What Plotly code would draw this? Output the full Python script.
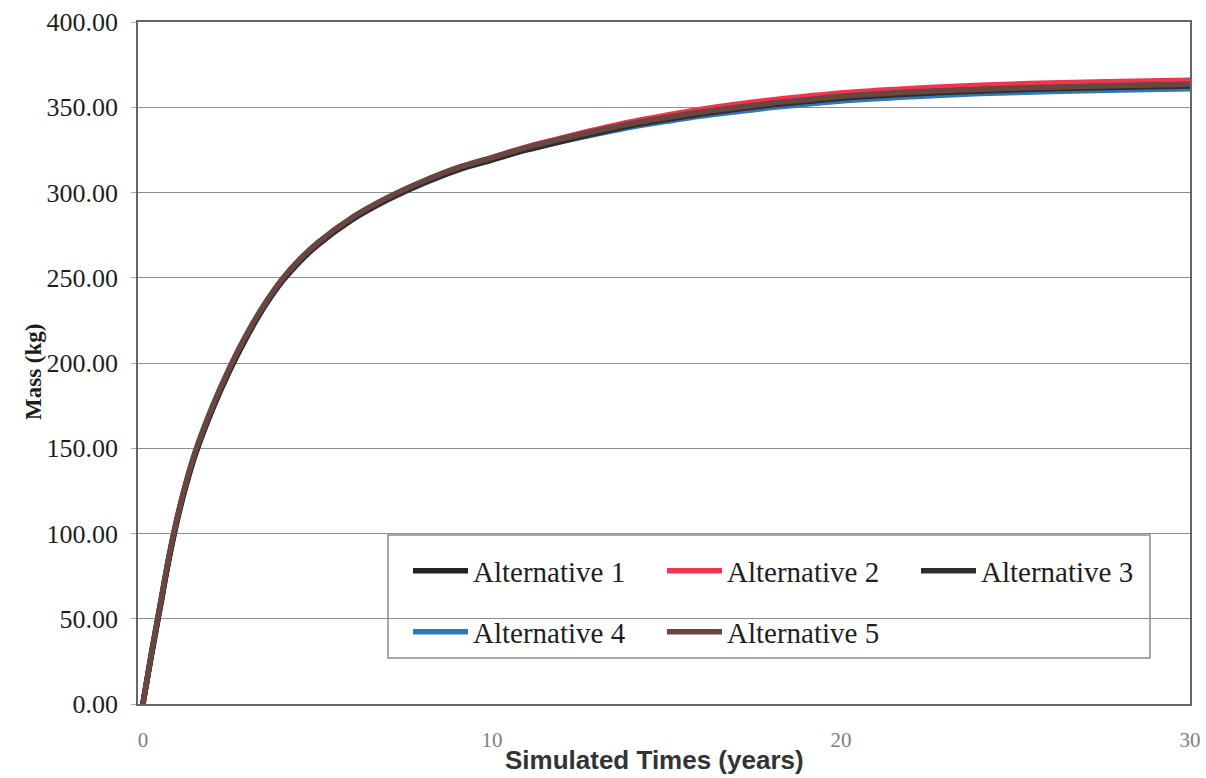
import plotly.graph_objects as go

times = [0, 0.25, 0.5, 0.75, 1, 1.25, 1.5, 2, 2.5, 3, 3.5, 4, 4.5, 5, 6, 7, 8, 9, 10, 11, 12,
         13, 14, 15, 16, 17, 18, 19, 20, 22, 24, 26, 28, 30]
alt1 = [0, 30, 58, 86, 110, 130, 147, 174, 197, 217, 234.5, 249, 260.5, 270, 285, 296.5, 306,
        314, 320, 326, 331, 335.7, 340, 343.5, 346.8, 349.5, 352, 354, 356, 358.5, 360.3, 361.5,
        362.4, 363.2]
alt2 = [0, 30, 58, 86, 110, 130, 147, 174, 197, 217, 234.5, 249, 260.5, 270, 285, 296.5, 306,
        314.3, 320.5, 326.8, 332, 337, 341.5, 345.3, 348.8, 351.7, 354.3, 356.4, 358.4, 361,
        362.9, 364.2, 365.1, 365.9]
alt3 = [0, 29, 57, 85, 109, 129, 146, 173, 196, 216, 233.5, 248, 259.5, 269, 284, 295.5, 305,
        313, 319, 325, 330, 334.8, 339.2, 342.8, 346, 348.8, 351.3, 353.3, 355.3, 357.8, 359.6,
        360.8, 361.7, 362.5]
alt4 = [0, 30, 58, 86, 110, 130, 147, 174, 197, 217, 234.5, 249, 260.5, 270, 285, 296.5, 305.8,
        313.6, 319.4, 325.1, 329.9, 334.3, 338.4, 341.7, 344.8, 347.4, 349.8, 351.8, 353.7, 356.2,
        358, 359.2, 360.1, 360.8]
alt5 = [0, 30.5, 59, 87, 111, 131, 148, 175, 198, 218, 235, 249.5, 261, 270.5, 285.5, 297, 306.5,
        314.5, 320.5, 326.5, 331.5, 336.2, 340.5, 344, 347.2, 349.9, 352.4, 354.4, 356.4, 358.9,
        360.6, 361.8, 362.7, 363.5]

names = ["Alternative 1", "Alternative 2", "Alternative 3", "Alternative 4", "Alternative 5"]
series = [alt1, alt2, alt3, alt4, alt5]
colors = ["#232323", "#f2344f", "#2e2e2e", "#2f78b5", "#6a4640"]
legends = ["legend", "legend", "legend", "legend2", "legend2"]
draw_order = [1, 3, 0, 2, 4]

fig = go.Figure()
for i in draw_order:
    fig.add_trace(go.Scatter(
        x=times, y=series[i], mode="lines", name=names[i],
        line=dict(color=colors[i], width=5.5, shape="spline", smoothing=1.0),
        legend=legends[i], legendrank=i + 1,
    ))

W, H = 1206, 778
L, T = 138, 22
R = W - 1190
B = H - 704
pw, ph = W - L - R, H - T - B


def px_x(p):
    return (p - L) / pw


def px_y(p):
    return (H - B - p) / ph


serif = "Liberation Serif, Times New Roman, serif"
legend_font = dict(family=serif, size=29, color="#1e1e1e")
leg_common = dict(orientation="h", xanchor="left", yanchor="middle", font=legend_font,
                  itemwidth=55, entrywidth=184, bgcolor="rgba(0,0,0,0)", traceorder="normal")

fig.update_layout(
    width=W, height=H,
    margin=dict(l=L, r=R, t=T, b=B),
    paper_bgcolor="white", plot_bgcolor="white",
    showlegend=True,
    legend=dict(x=px_x(408), y=px_y(571), **leg_common),
    legend2=dict(x=px_x(408), y=px_y(632), **leg_common),
    shapes=[dict(type="rect", xref="paper", yref="paper",
                 x0=px_x(388), x1=px_x(1150), y0=px_y(658), y1=px_y(535),
                 line=dict(color="#8c8c8c", width=1.5), fillcolor="white", layer="below")],
    annotations=[
        dict(text="<b>Simulated Times (years)</b>", xref="paper", yref="paper",
             x=px_x(654), y=px_y(777), xanchor="center", yanchor="bottom", showarrow=False,
             font=dict(family="Liberation Sans, Arial, sans-serif", size=26, color="#333")),
        dict(text="<b>Mass (kg)</b>", xref="paper", yref="paper", textangle=-90,
             x=px_x(33), y=px_y(372), xanchor="center", yanchor="middle", showarrow=False,
             font=dict(family=serif, size=23, color="#1e1e1e")),
    ],
    xaxis=dict(range=[-0.14, 30], tickvals=[0, 10, 20, 30], ticks="", showgrid=False,
               automargin=False,
               zeroline=False, showline=True, linecolor="#666", linewidth=1.5, mirror=True,
               ticklabelstandoff=16,
               tickfont=dict(family=serif, size=21, color="#808080")),
    yaxis=dict(range=[0, 400], tickvals=[0, 50, 100, 150, 200, 250, 300, 350, 400],
               automargin=False,
               tickformat=".2f", ticks="outside", ticklen=5, tickcolor="#aaa",
               ticklabelstandoff=8,
               showgrid=True, gridcolor="#8f8f8f", gridwidth=1.2, zeroline=False,
               showline=True, linecolor="#666", linewidth=1.5, mirror=True,
               tickfont=dict(family=serif, size=26, color="#1e1e1e")),
)

fig.write_html("out.html", config={"displayModeBar": False},
               post_script="document.body.style.margin='0px';")
